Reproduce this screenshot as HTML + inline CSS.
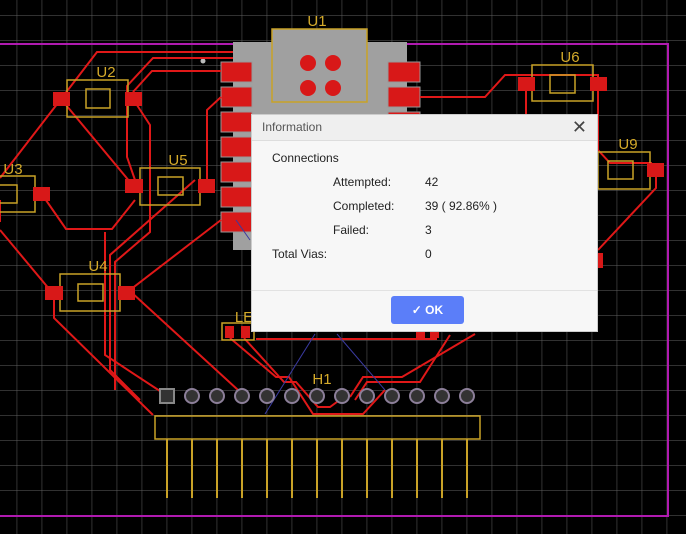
<!DOCTYPE html>
<html><head><meta charset="utf-8"><style>
html,body{margin:0;padding:0;background:#000;width:686px;height:534px;overflow:hidden;font-family:"Liberation Sans",sans-serif}
.dlg{position:absolute;left:251px;top:114px;width:347px;height:218px;background:#f7f7f7;border:1px solid #ccc;box-sizing:border-box}
.tb{height:25px;background:#efefef;border-bottom:1px solid #ddd;font-size:12px;color:#555;line-height:25px;padding-left:10px;position:relative}
.x{position:absolute;right:10px;top:0;font-size:18px;color:#444}
.t{position:absolute;font-size:12px;color:#222}
.ok{position:absolute;left:139px;top:181px;width:73px;height:28px;background:#5b7ef9;border-radius:3px;color:#fff;font-size:12px;font-weight:bold;line-height:28px;text-align:center}
.sep{position:absolute;left:0;right:0;top:175px;border-top:1px solid #e2e2e2}
</style></head><body>
<svg width="686" height="534" style="position:absolute;left:0;top:0" xmlns="http://www.w3.org/2000/svg">
<defs><pattern id="g" x="16.7" y="15" width="25" height="25" patternUnits="userSpaceOnUse"><path d="M0 0H25M0 0V25" stroke="#626262" stroke-width="1" fill="none"/></pattern></defs>
<rect width="686" height="534" fill="url(#g)"/>
<path d="M0 44H668V516H0" stroke="#b01ab0" stroke-width="2" fill="none"/>
<!-- U1 -->
<rect x="233" y="42" width="174" height="208" fill="#a0a0a0"/>
<rect x="272" y="29" width="95" height="73" fill="#a0a0a0" stroke="#c9a227" stroke-width="1.5"/>
<g fill="#d81818"><circle cx="308" cy="63" r="8"/><circle cx="333" cy="63" r="8"/><circle cx="308" cy="88" r="8"/><circle cx="333" cy="88" r="8"/></g>
<g fill="#d81818" stroke="#999" stroke-width="1">
<rect x="221" y="62" width="31" height="20"/><rect x="221" y="87" width="31" height="20"/><rect x="221" y="112" width="31" height="20"/><rect x="221" y="137" width="31" height="20"/><rect x="221" y="162" width="31" height="20"/><rect x="221" y="187" width="31" height="20"/><rect x="221" y="212" width="31" height="20"/>
<rect x="388" y="62" width="32" height="20"/><rect x="388" y="87" width="32" height="20"/><rect x="388" y="112" width="32" height="20"/>
</g>
<circle cx="203" cy="61" r="2.5" fill="#bbb"/>
<!-- traces -->
<g stroke="#e01818" stroke-width="2" fill="none">
<path d="M61 99L97 52H233"/>
<path d="M233 58H153L127 86V157L135 180"/>
<path d="M221 71H152L133 92"/>
<path d="M133 99L150 125V232L115 262V390"/>
<path d="M61 99L0 178"/>
<path d="M61 99L130 182"/>
<path d="M41 193L66 229H112L135 200"/>
<path d="M221 97L207 110V180"/>
<path d="M195 180L110 255V370L140 400"/>
<path d="M126 293L221 220"/>
<path d="M131 292L238 390"/>
<path d="M54 293V318L153 415"/>
<path d="M0 230L50 290"/>
<path d="M105 232V355L166 395"/>
<path d="M0 200V222"/>
<path d="M420 97H485L505 75H598V150L610 163H652"/>
<path d="M526 84V114"/>
<path d="M656 177V188L598 250"/>
<path d="M230 338L276 377H289L313 414H363L385 390"/>
<path d="M244 338L284 382H296L318 407H330L345 396"/>
<path d="M475 334L402 377H363L350 397"/>
<path d="M450 335L420 382H367L355 400"/>
<path d="M256 339H437"/>
</g>
<rect x="596" y="253" width="7" height="15" fill="#d81818"/>
<g stroke="#3a3aa0" stroke-width="1"><path d="M315 334L265 414"/><path d="M337 334L385 390"/><path d="M236 220L250 240"/></g>
<!-- outlines -->
<g stroke="#c9a227" stroke-width="1.5" fill="none">
<rect x="67" y="80" width="61" height="37"/><rect x="86" y="89" width="24" height="19"/>
<rect x="-5" y="176" width="40" height="36"/><rect x="-5" y="185" width="22" height="18"/>
<rect x="140" y="168" width="60" height="37"/><rect x="158" y="177" width="25" height="18"/>
<rect x="60" y="274" width="60" height="37"/><rect x="78" y="284" width="25" height="17"/>
<rect x="532" y="65" width="61" height="36"/><rect x="550" y="75" width="25" height="18"/>
<rect x="598" y="152" width="52" height="37"/><rect x="608" y="161" width="25" height="18"/>
<rect x="222" y="323" width="32" height="17"/>
<rect x="155" y="416" width="325" height="23"/>
</g>
<g fill="#d81818">
<rect x="53" y="92" width="17" height="14"/><rect x="125" y="92" width="17" height="14"/>
<rect x="33" y="187" width="17" height="14"/>
<rect x="125" y="179" width="18" height="14"/><rect x="198" y="179" width="17" height="14"/>
<rect x="45" y="286" width="18" height="14"/><rect x="118" y="286" width="17" height="14"/>
<rect x="518" y="77" width="17" height="14"/><rect x="590" y="77" width="17" height="14"/>
<rect x="647" y="163" width="17" height="14"/>
<rect x="225" y="326" width="9" height="12"/><rect x="241" y="326" width="9" height="12"/>
<rect x="416" y="326" width="9" height="12"/><rect x="430" y="326" width="9" height="12"/>
</g>
<g stroke="#c9a227" stroke-width="2">
<path d="M167 439V498M192 439V498M217 439V498M242 439V498M267 439V498M292 439V498M317 439V498M342 439V498M367 439V498M392 439V498M417 439V498M442 439V498M467 439V498"/>
</g>
<g fill="#333" stroke="#8c7f99" stroke-width="2">
<rect x="160" y="389" width="14" height="14" stroke="#888"/>
<circle cx="192" cy="396" r="7"/><circle cx="217" cy="396" r="7"/><circle cx="242" cy="396" r="7"/><circle cx="267" cy="396" r="7"/><circle cx="292" cy="396" r="7"/><circle cx="317" cy="396" r="7"/><circle cx="342" cy="396" r="7"/><circle cx="367" cy="396" r="7"/><circle cx="392" cy="396" r="7"/><circle cx="417" cy="396" r="7"/><circle cx="442" cy="396" r="7"/><circle cx="467" cy="396" r="7"/>
</g>
<g fill="#d4aa2a" font-family="Liberation Sans,sans-serif" font-size="15" text-anchor="middle">
<text x="317" y="26">U1</text><text x="106" y="77">U2</text><text x="13" y="174">U3</text><text x="178" y="165">U5</text><text x="98" y="271">U4</text><text x="570" y="62">U6</text><text x="628" y="149">U9</text><text x="322" y="384">H1</text><text x="244" y="322">LE</text>
</g>
</svg>
<div class="dlg">
<div class="tb">Information<span class="x">✕</span></div>
<div class="t" style="left:20px;top:36px">Connections</div>
<div class="t" style="left:81px;top:60px">Attempted:</div><div class="t" style="left:173px;top:60px">42</div>
<div class="t" style="left:81px;top:84px">Completed:</div><div class="t" style="left:173px;top:84px">39 ( 92.86% )</div>
<div class="t" style="left:81px;top:108px">Failed:</div><div class="t" style="left:173px;top:108px">3</div>
<div class="t" style="left:20px;top:132px">Total Vias:</div><div class="t" style="left:173px;top:132px">0</div>
<div class="sep"></div>
<div class="ok">✓ OK</div>
</div>
</body></html>
